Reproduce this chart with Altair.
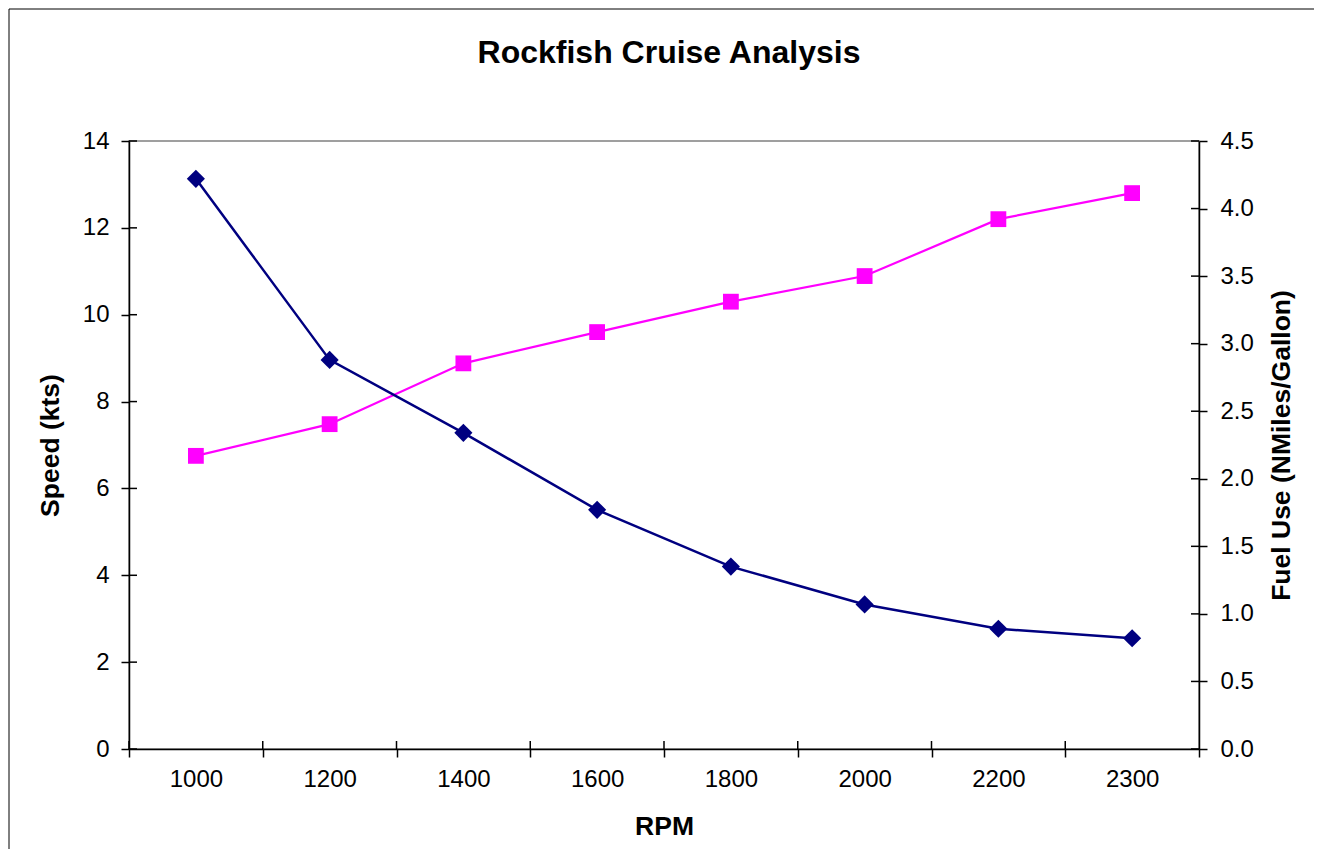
import altair as alt
import pandas as pd

# ---- data ----
rpm = [1000, 1200, 1400, 1600, 1800, 2000, 2200, 2300]
speed_kts = [6.75, 7.48, 8.88, 9.60, 10.30, 10.89, 12.20, 12.80]
fuel_use = [4.22, 2.88, 2.34, 1.77, 1.35, 1.07, 0.89, 0.82]
speed_ticks = [0, 2, 4, 6, 8, 10, 12, 14]
fuel_ticks = [0.0, 0.5, 1.0, 1.5, 2.0, 2.5, 3.0, 3.5, 4.0, 4.5]

W, H = 1070, 608
FONT = "Liberation Sans"
PINK = "#FF00FF"
NAVY = "#000080"

df = pd.DataFrame({"RPM": rpm, "Speed": speed_kts, "Fuel": fuel_use})
df_sticks = pd.DataFrame({"Speed": speed_ticks})
df_fticks = pd.DataFrame({"Fuel": fuel_ticks})
df_rpm = pd.DataFrame({"RPM": rpm})

xscale = alt.Scale(type="band", paddingInner=0, paddingOuter=0)
x_axis = alt.Axis(title="RPM", labelAngle=0, tickBand="extent", tickSize=8,
                  labelPadding=10, titlePadding=22, grid=False)
x_main = alt.X("RPM:O", scale=xscale, bandPosition=0.5, axis=x_axis)
x_start = alt.X("RPM:O", scale=xscale, bandPosition=0, axis=x_axis)

y_speed = alt.Y(
    "Speed:Q", scale=alt.Scale(domain=[0, 14], nice=False, zero=True),
    axis=alt.Axis(title="Speed (kts)", orient="left", values=speed_ticks, tickSize=8,
                  labelPadding=12, titlePadding=18, grid=False),
)
y_fuel = alt.Y(
    "Fuel:Q", scale=alt.Scale(domain=[0, 4.5], nice=False, zero=True),
    axis=alt.Axis(title="Fuel Use (NMiles/Gallon)", orient="right", values=fuel_ticks,
                  format=".1f", tickSize=8, labelPadding=13, titlePadding=15,
                  titleAngle=270, titleBaseline="top", grid=False),
)

base = alt.Chart(df)
speed_line = base.mark_line(color=PINK, strokeWidth=2.2).encode(x=x_main, y=y_speed)
speed_pts = base.mark_point(shape="square", filled=True, opacity=1, color=PINK, size=250).encode(x=x_main, y=y_speed)
speed_inticks = alt.Chart(df_sticks).mark_rule(color="black", strokeWidth=1.5).encode(
    y=y_speed, x=alt.value(0), x2=alt.value(8))

fuel_line = base.mark_line(color=NAVY, strokeWidth=2.5).encode(x=x_main, y=y_fuel)
fuel_pts = base.mark_point(shape="diamond", filled=True, opacity=1, color=NAVY, size=330).encode(x=x_main, y=y_fuel)
fuel_inticks = alt.Chart(df_fticks).mark_rule(color="black", strokeWidth=1.5).encode(
    y=y_fuel, x=alt.value(W - 8), x2=alt.value(W))

x_inticks = alt.Chart(df_rpm).mark_rule(color="black", strokeWidth=1.5).encode(
    x=x_start, y=alt.value(H - 8), y2=alt.value(H))

one = alt.Data(values=[{"k": 1}])
border_left = alt.Chart(one).mark_rule(color="black", strokeWidth=1).encode(
    x=alt.value(-120), y=alt.value(-132), y2=alt.value(H + 100))
border_top = alt.Chart(one).mark_rule(color="black", strokeWidth=1).encode(
    y=alt.value(-132), x=alt.value(-120), x2=alt.value(W + 115))

left = alt.layer(speed_line, speed_pts, speed_inticks)
right = alt.layer(fuel_line, fuel_pts, fuel_inticks)

chart = (
    alt.layer(left, right, x_inticks, border_left, border_top)
    .resolve_scale(y="independent")
    .properties(
        width=W, height=H, padding=0, background="white",
        title=alt.TitleParams("Rockfish Cruise Analysis", font=FONT, fontSize=32,
                              fontWeight="bold", color="black", anchor="middle",
                              frame="group", offset=-61, dx=5),
    )
    .configure_view(stroke="#808080", strokeWidth=1.5)
    .configure_axis(
        labelFont=FONT, labelFontSize=24, labelColor="black",
        titleFont=FONT, titleFontSize=26.5, titleFontWeight="bold", titleColor="black",
        domainColor="black", domainWidth=1.5, tickColor="black", tickWidth=1.5,
    )
)

chart.save("out.html", embed_options={"renderer": "svg", "actions": False})
